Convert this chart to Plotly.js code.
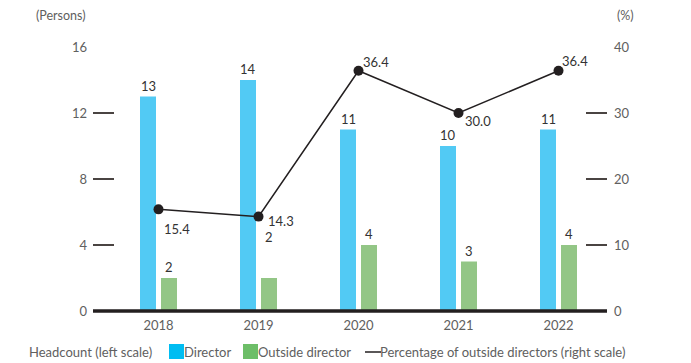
<!DOCTYPE html>
<html>
<head>
<meta charset="utf-8">
<script src="https://cdn.plot.ly/plotly-3.0.1.min.js"></script>
<style>html,body{margin:0;padding:0;background:#fff;}#chart{width:691px;height:363px;}</style>
</head>
<body>
<div id="chart"></div>
<script>
// ---- data ----
const years = ['2018', '2019', '2020', '2021', '2022'];
const directors = [13, 14, 11, 10, 11];
const outsideDirectors = [2, 2, 4, 3, 4];
const outsidePct = [15.4, 14.3, 36.4, 30.0, 36.4];
const pctLabels = ['15.4', '14.3', '36.4', '30.0', '36.4'];
const leftTicks = [0, 4, 8, 12, 16];
const rightTicks = [0, 10, 20, 30, 40];
const legendTitle = 'Headcount (left scale)';
const legendNames = ['Director', 'Outside director', 'Percentage of outside directors (right scale)'];

// ---- layout helpers ----
const W = 691, H = 363, L = 93, R = 607, T = 47, B = 311;
const px = v => (v - L) / (R - L);
const py = v => (B - v) / (B - T);
const FONT = 'Lato, "Noto Sans", sans-serif';
const GRAY = '#606060';
const xs = years.map((_, i) => i);

const traces = [
  {type: 'bar', x: xs, y: directors, width: 0.16, offset: -0.185,
   marker: {color: '#52CAF4'}, showlegend: false, hoverinfo: 'skip'},
  {type: 'bar', x: xs, y: outsideDirectors, width: 0.16, offset: 0.025,
   marker: {color: '#93C686'}, showlegend: false, hoverinfo: 'skip'},
  {type: 'scatter', mode: 'lines+markers', x: xs, y: outsidePct, yaxis: 'y2',
   line: {color: '#231f20', width: 1.5}, marker: {color: '#231f20', size: 10},
   showlegend: false, hoverinfo: 'skip', cliponaxis: false}
];

const annotations = [];
// bar value labels
const dirShift = [0, 0, 0, 0, 0];
const outShift = [0, 30, 0, 0, 0];
directors.forEach((v, i) => annotations.push({x: i - 0.105, y: v, xref: 'x', yref: 'y', text: String(v),
  showarrow: false, yanchor: 'bottom', yshift: 1 + dirShift[i], font: {family: FONT, size: 13, color: '#333'}}));
outsideDirectors.forEach((v, i) => annotations.push({x: i + 0.105, y: v, xref: 'x', yref: 'y', text: String(v),
  showarrow: false, yanchor: 'bottom', yshift: 1 + outShift[i], font: {family: FONT, size: 13, color: '#333'}}));
// line labels
const pctDx = [3, 7, 2, 4, 1];
const pctDy = [-20, -4, 9, -8, 10];
outsidePct.forEach((v, i) => annotations.push({x: i, y: v, xref: 'x', yref: 'y2', text: pctLabels[i],
  showarrow: false, xanchor: 'left', xshift: pctDx[i], yshift: pctDy[i], font: {family: FONT, size: 13, color: '#333'}}));
// axis unit labels
annotations.push({x: px(88), y: py(15), xref: 'paper', yref: 'paper', text: '(Persons)', showarrow: false,
  xanchor: 'right', yanchor: 'middle', font: {family: FONT, size: 12.5, color: GRAY}});
annotations.push({x: px(615), y: py(15), xref: 'paper', yref: 'paper', text: '(%)', showarrow: false,
  xanchor: 'left', yanchor: 'middle', font: {family: FONT, size: 12.5, color: GRAY}});
// legend
const ly = py(352);
annotations.push({x: px(27), y: ly, xref: 'paper', yref: 'paper', text: legendTitle, showarrow: false,
  xanchor: 'left', yanchor: 'middle', font: {family: FONT, size: 13, color: GRAY}});
annotations.push({x: px(184), y: ly, xref: 'paper', yref: 'paper', text: legendNames[0], showarrow: false,
  xanchor: 'left', yanchor: 'middle', xshift: -2, font: {family: FONT, size: 13, color: GRAY}});
annotations.push({x: px(258), y: ly, xref: 'paper', yref: 'paper', text: legendNames[1], showarrow: false,
  xanchor: 'left', yanchor: 'middle', xshift: -2, font: {family: FONT, size: 13, color: GRAY}});
annotations.push({x: px(380), y: ly, xref: 'paper', yref: 'paper', text: legendNames[2], showarrow: false,
  xanchor: 'left', yanchor: 'middle', xshift: -2, font: {family: FONT, size: 13, color: GRAY}});

const shapes = [
  // baseline
  {type: 'line', xref: 'paper', yref: 'paper', x0: 0, x1: 1, y0: 0, y1: 0, layer: 'above',
   line: {color: '#231f20', width: 3.5}},
  // legend swatches
  {type: 'rect', xref: 'paper', yref: 'paper', x0: px(169), x1: px(184), y0: py(359), y1: py(344),
   fillcolor: '#00BDF2', line: {width: 0}},
  {type: 'rect', xref: 'paper', yref: 'paper', x0: px(243), x1: px(258), y0: py(359), y1: py(344),
   fillcolor: '#6DBE68', line: {width: 0}},
  {type: 'line', xref: 'paper', yref: 'paper', x0: px(365), x1: px(381), y0: py(352), y1: py(352),
   line: {color: '#231f20', width: 1.5}}
];

const layout = {
  width: W, height: H,
  margin: {l: L, r: W - R, t: T, b: H - B, pad: 0},
  paper_bgcolor: '#fff', plot_bgcolor: '#fff',
  showlegend: false,
  barmode: 'overlay',
  font: {family: FONT, size: 13, color: GRAY},
  xaxis: {range: [-0.655, 4.485], tickvals: xs, ticktext: years, showgrid: false, zeroline: false,
    showline: false, ticks: '', tickfont: {family: FONT, size: 13, color: GRAY}, ticklabelstandoff: 5, fixedrange: true},
  yaxis: {range: [0, 16], tickvals: leftTicks, showgrid: false, zeroline: false, showline: false,
    ticks: 'inside', ticklen: 21, tickwidth: 1.5, tickcolor: '#4a4442', ticklabelstandoff: 5,
    tickfont: {family: FONT, size: 13, color: GRAY}},
  yaxis2: {range: [0, 40], tickvals: rightTicks, overlaying: 'y', side: 'right', showgrid: false,
    zeroline: false, showline: false, ticks: 'inside', ticklen: 21, tickwidth: 1.5, tickcolor: '#4a4442',
    ticklabelstandoff: 6, tickfont: {family: FONT, size: 13, color: GRAY}},
  annotations: annotations,
  shapes: shapes
};

Plotly.newPlot('chart', traces, layout, {staticPlot: true, displayModeBar: false});
</script>
</body>
</html>
